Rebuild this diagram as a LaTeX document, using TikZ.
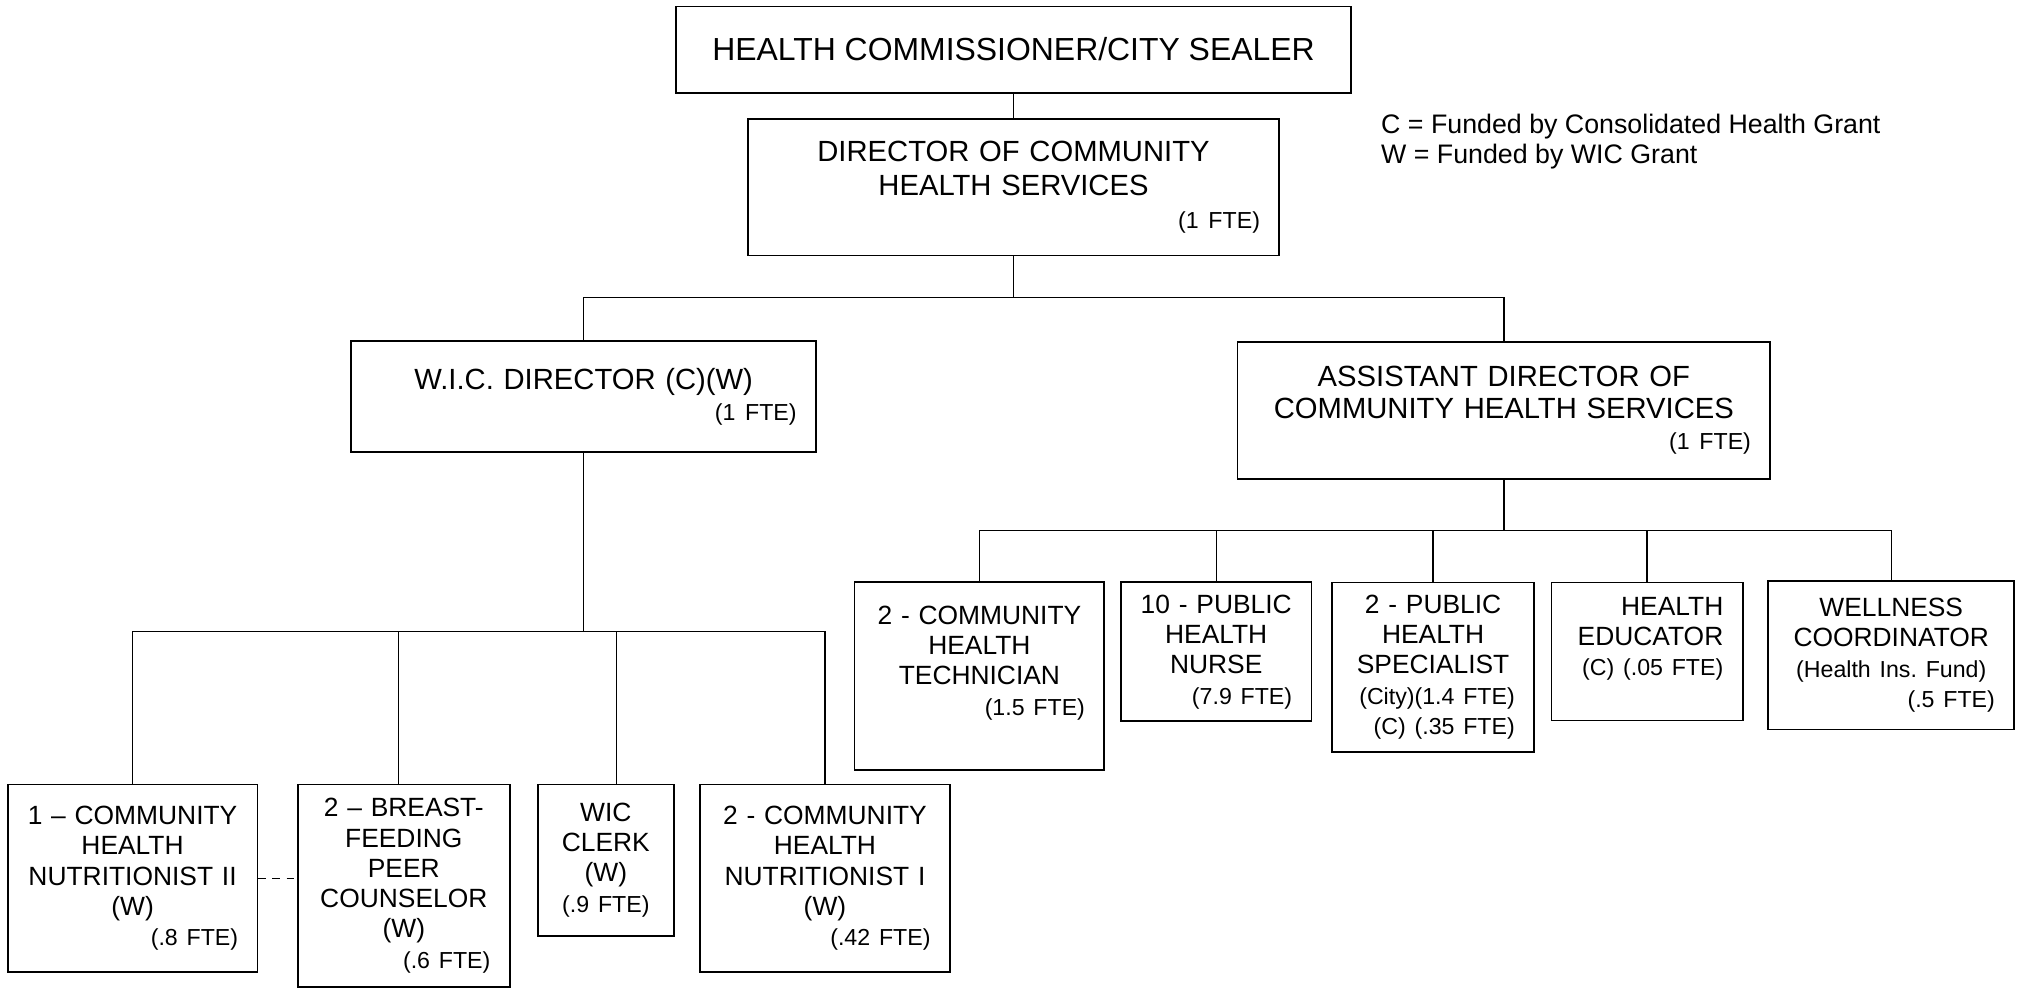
\documentclass[tikz,border=0pt]{standalone}
\usepackage{fontspec}
\setmainfont{Liberation Sans}
\newcommand{\fte}[1]{{\fontsize{18}{23.5}\selectfont #1}}
\frenchspacing

\begin{document}
\begin{tikzpicture}[x=1pt,y=-1pt]
    \tikzstyle{post}=[draw, line width=1.4pt, inner xsep=15pt, inner ysep=0pt, align=center, font=\fontsize{20.5}{23.5}\selectfont]
    \tikzstyle{link}=[line width=1pt]
    \useasboundingbox (0,0) rectangle (1568,768.5);

    % top of the chart
    \node[post, minimum width=525pt, minimum height=67pt, font=\fontsize{24.8}{28}\selectfont] (hc) at (787.5,38.5) {HEALTH COMMISSIONER/CITY SEALER};
    \node[post, text width=383pt, minimum height=106pt, font=\fontsize{22.7}{26}\selectfont] (dir) at (787.5,145.5)
        {DIRECTOR OF COMMUNITY\\ HEALTH SERVICES\\ \mbox{}\hfill\fte{(1 FTE)}};
    \node[post, text width=331pt, minimum height=86pt, font=\fontsize{22.7}{24}\selectfont] (wic) at (453.5,308)
        {W.I.C. DIRECTOR (C)(W)\\ \mbox{}\hfill\fte{(1 FTE)}};
    \node[post, text width=384pt, minimum height=106pt, font=\fontsize{22.7}{24.5}\selectfont] (asst) at (1168.5,319)
        {ASSISTANT DIRECTOR OF\\ COMMUNITY HEALTH SERVICES\\ \mbox{}\hfill\fte{(1 FTE)}};

    \node[anchor=west, align=left, inner sep=0pt, font=\fontsize{20.8}{24}\selectfont] (key) at (1073,110)
        {C = Funded by Consolidated Health Grant\\ W = Funded by WIC Grant};

    % W.I.C. staff
    \node[post, text width=164pt, minimum height=146pt] (nut2) at (103,682.5)
        {1 -- COMMUNITY\\ HEALTH\\ NUTRITIONIST II\\ (W)\\ \mbox{}\hfill\fte{(.8 FTE)}};
    \node[post, text width=134.5pt, minimum height=157.5pt] (bf) at (313.75,688.25)
        {2 -- BREAST-\\ FEEDING\\ PEER\\ COUNSELOR\\ (W)\\ \mbox{}\hfill\fte{(.6 FTE)}};
    \node[post, text width=75.5pt, minimum height=117.5pt] (clerk) at (470.75,668.25)
        {WIC\\ CLERK\\ (W)\\ \fte{(.9 FTE)}};
    \node[post, text width=164pt, minimum height=146pt] (nut1) at (641,682.5)
        {2 - COMMUNITY\\ HEALTH\\ NUTRITIONIST I\\ (W)\\ \mbox{}\hfill\fte{(.42 FTE)}};

    % assistant director staff
    \node[post, text width=164pt, minimum height=146pt] (tech) at (761,525)
        {2 - COMMUNITY\\ HEALTH\\ TECHNICIAN\\ \mbox{}\hfill\fte{(1.5 FTE)}\\ \mbox{}};
    \node[post, text width=118pt, minimum height=108pt] (nurse) at (945,506.5)
        {10 - PUBLIC\\ HEALTH\\ NURSE\\ \mbox{}\hfill\fte{(7.9 FTE)}};
    \node[post, text width=127pt, minimum height=131.4pt] (spec) at (1113.5,518.3)
        {2 - PUBLIC\\ HEALTH\\ SPECIALIST\\ \mbox{}\hfill\fte{(City)(1.4 FTE)}\\ \mbox{}\hfill\fte{(C) (.35 FTE)}};
    \node[post, align=right, text width=118.5pt, minimum height=107.2pt] (edu) at (1279.75,506.2)
        {HEALTH\\ EDUCATOR\\ \fte{(C) (.05 FTE)}\\ \mbox{}};
    \node[post, text width=161pt, minimum height=115.5pt] (well) at (1469.5,509)
        {WELLNESS\\ COORDINATOR\\ \fte{(Health Ins. Fund)}\\ \mbox{}\hfill\fte{(.5 FTE)}};

    % lines
    \coordinate (topbus) at (787.5,231);
    \coordinate (wicbus) at (453.5,490.5);
    \coordinate (asstbus) at (1168.5,412.3);

    \draw[link] (hc) -- (dir);
    \draw[link] (dir.south) -- (topbus);
    \draw[link] (wic.north) |- (topbus) -| (asst.north);

    \draw[link] (wic.south) -- (wicbus);
    \draw[link] (nut2.north) |- (wicbus) -| (nut1.north);
    \draw[link] ([xshift=-4pt]bf.north) -- ([xshift=-4pt]bf.north |- wicbus);
    \draw[link] ([xshift=8pt]clerk.north) -- ([xshift=8pt]clerk.north |- wicbus);
    \draw[link, dash pattern=on 6pt off 5pt] (nut2.east) -- (nut2.east -| bf.west);

    \draw[link] (asst.south) -- (asstbus);
    \draw[link] (tech.north) |- (asstbus) -| (well.north);
    \draw[link] (nurse.north) -- (nurse.north |- asstbus);
    \draw[link] (spec.north) -- (spec.north |- asstbus);
    \draw[link] (edu.north) -- (edu.north |- asstbus);

\end{tikzpicture}
\end{document}
